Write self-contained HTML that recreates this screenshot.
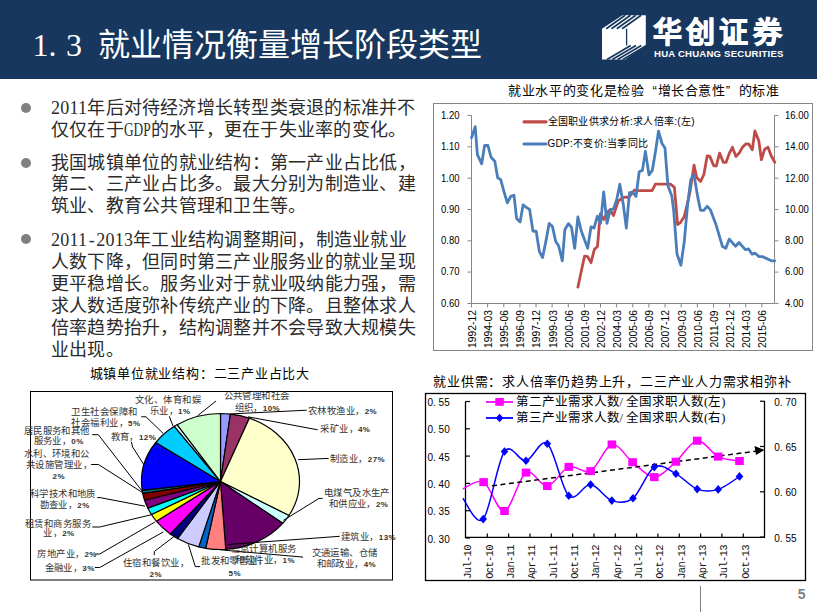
<!DOCTYPE html>
<html lang="zh-CN"><head><meta charset="utf-8">
<style>
*{margin:0;padding:0;box-sizing:border-box}
html,body{width:817px;height:612px;overflow:hidden;background:#fff;position:relative}
body{font-family:"Liberation Serif",serif;color:#000}
.a{position:absolute;white-space:nowrap}
.hw{display:inline-block;width:16px;text-align:left}
.rot{transform:rotate(-90deg)}
.q{display:inline-block;width:1em;text-align:center}
.h{display:inline-block;width:.5em;text-align:center}
.dot{position:absolute;left:21px;width:10px;height:10px;border-radius:50%;background:#808080}
svg{position:absolute;left:0;top:0}
</style></head><body>
<div class="a" style="left:0;top:0;width:817px;height:79px;background:#17375e"></div>
<svg width="817" height="612" viewBox="0 0 817 612">
<path d="M602 28.7L622.5 15.3H645.8V45.5L625 59.4H602Z" fill="#fff"/>
<path d="M626.6 28.7V45.5" stroke="#17375e" stroke-width="1.3"/>
<path d="M606.2 28.7L625.2 15.3" stroke="#17375e" stroke-width="1.7"/>
<path d="M611.5 28.7L630.5 15.3" stroke="#17375e" stroke-width="1.7"/>
<path d="M616.8 28.7L635.8 15.3" stroke="#17375e" stroke-width="1.7"/>
<path d="M622.1 28.7L641.1 15.3" stroke="#17375e" stroke-width="1.7"/>
<path d="M607.0 59.4L630.7 45.5" stroke="#17375e" stroke-width="1.7"/>
<path d="M612.3 59.4L636.0 45.5" stroke="#17375e" stroke-width="1.7"/>
<path d="M617.6 59.4L641.3 45.5" stroke="#17375e" stroke-width="1.7"/>
<path d="M622.9 59.4L646.6 45.5" stroke="#17375e" stroke-width="1.7"/>
<rect x="433.5" y="103.5" width="379" height="247" fill="none" stroke="#868686" stroke-width="1"/>
<path d="M471.5 115.5V303.5M774.5 115.5V303.5M471.5 303.5H774.5" stroke="#868686" stroke-width="1" fill="none"/>
<path d="M467.5 115.5H471.5M774.5 115.5H778.5" stroke="#868686" stroke-width="1"/>
<path d="M467.5 146.8H471.5M774.5 146.8H778.5" stroke="#868686" stroke-width="1"/>
<path d="M467.5 178.2H471.5M774.5 178.2H778.5" stroke="#868686" stroke-width="1"/>
<path d="M467.5 209.5H471.5M774.5 209.5H778.5" stroke="#868686" stroke-width="1"/>
<path d="M467.5 240.8H471.5M774.5 240.8H778.5" stroke="#868686" stroke-width="1"/>
<path d="M467.5 272.1H471.5M774.5 272.1H778.5" stroke="#868686" stroke-width="1"/>
<path d="M467.5 303.5H471.5M774.5 303.5H778.5" stroke="#868686" stroke-width="1"/>
<path d="M471.5 303.5V307.5" stroke="#868686" stroke-width="1"/>
<path d="M487.6 303.5V307.5" stroke="#868686" stroke-width="1"/>
<path d="M503.8 303.5V307.5" stroke="#868686" stroke-width="1"/>
<path d="M519.9 303.5V307.5" stroke="#868686" stroke-width="1"/>
<path d="M536.0 303.5V307.5" stroke="#868686" stroke-width="1"/>
<path d="M552.1 303.5V307.5" stroke="#868686" stroke-width="1"/>
<path d="M568.3 303.5V307.5" stroke="#868686" stroke-width="1"/>
<path d="M584.4 303.5V307.5" stroke="#868686" stroke-width="1"/>
<path d="M600.5 303.5V307.5" stroke="#868686" stroke-width="1"/>
<path d="M616.7 303.5V307.5" stroke="#868686" stroke-width="1"/>
<path d="M632.8 303.5V307.5" stroke="#868686" stroke-width="1"/>
<path d="M648.9 303.5V307.5" stroke="#868686" stroke-width="1"/>
<path d="M665.1 303.5V307.5" stroke="#868686" stroke-width="1"/>
<path d="M681.2 303.5V307.5" stroke="#868686" stroke-width="1"/>
<path d="M697.3 303.5V307.5" stroke="#868686" stroke-width="1"/>
<path d="M713.5 303.5V307.5" stroke="#868686" stroke-width="1"/>
<path d="M729.6 303.5V307.5" stroke="#868686" stroke-width="1"/>
<path d="M745.7 303.5V307.5" stroke="#868686" stroke-width="1"/>
<path d="M761.8 303.5V307.5" stroke="#868686" stroke-width="1"/>
<polyline points="577.9,287.2 584.5,256.2 587.7,256.6 591,262.7 594.3,249.6 597.5,246.4 600.2,214 603.7,219.5 607,212.3 610.3,209.7 613.5,215.6 618.1,201.2 623.3,197.3 629.2,197 634.4,190.1 638.4,190.7 652.1,190.7 655.4,184.2 670.5,184.1 674.4,187.3 677.6,224.6 680.3,222.7 684.2,216.8 687.5,203.1 690.1,191.3 694,165.1 696.7,177.5 700.6,181.4 703.9,174.5 707.2,155.8 709.8,156.4 713.7,165.6 716.3,166 719.6,153.1 723.3,162.3 726.1,162.3 729.4,153.1 732.4,147.3 735.9,156.4 739.2,153.1 742.5,147.3 745.8,144 749,144.2 752.3,149.9 754.9,130.9 758.8,140.7 761.4,159.7 764.7,149.2 768,147.3 771.2,155.8 774.8,162.3" fill="none" stroke="#be4b48" stroke-width="2.8" stroke-linejoin="round" stroke-linecap="round"/>
<polyline points="471.5,137.7 475.2,126.6 477.4,154.7 481.7,163.8 484.6,145.5 487.9,145.5 491.1,157.3 494.8,161.2 497.7,177.8 500.7,179.6 504.2,192.5 507.4,202.9 510.7,196.4 514,195.3 516.6,218.6 520.1,221.9 523.1,204.9 526.4,207.5 529.6,209.4 532.9,231 536.2,231.5 539.4,251.6 542.6,257.5 545.9,241.1 549.2,223.5 552.5,226.6 555.7,241.5 558.7,246 562.3,260.8 564.9,229.4 568.5,223.6 571.5,227.3 574.7,248.3 577.9,217 581.2,230.7 584.5,239.8 587.7,248.3 591,226.8 594,228.1 597.3,216.3 600.6,223.2 603.7,192 607,223.4 610.3,209.7 613.5,209 616.8,199.2 619.8,184.2 623.3,204.4 626.3,228 629.5,192.7 632.6,192 636,196.5 639.2,171.7 642.4,170.4 645.4,151.4 649,174.9 652.3,170.4 655.5,151.4 658.5,131.1 662,143.5 665,148.1 667.9,185.4 671.8,196 673.7,210.9 677,254 680.9,265.2 684.2,242.3 687.5,205.7 690.8,179.5 694,174.9 698,198.4 700.5,210.3 703.8,210.3 707.1,206.3 710.3,209.6 716.2,225.3 722.5,246.6 725.8,248.3 729.3,239.1 735.6,246.3 739,242.5 745.3,249.6 748.6,249 752.1,254.2 755.1,253.2 759,256.6 762.3,256.6 771.4,260.8 774.7,260.8" fill="none" stroke="#4a7ebb" stroke-width="2.8" stroke-linejoin="round" stroke-linecap="round"/>
<path d="M524 121.8H546" stroke="#be4b48" stroke-width="3.2" stroke-linecap="round"/>
<path d="M524 144H546" stroke="#4a7ebb" stroke-width="3.2" stroke-linecap="round"/>
<path d="M220.5 481.5L220.50 413.50A79 68 0 0 1 230.40 414.04Z" fill="#9999FF" stroke="#000" stroke-width="1.2" stroke-linejoin="round"/>
<path d="M220.5 481.5L230.40 414.04A79 68 0 0 1 249.33 418.19Z" fill="#993366" stroke="#000" stroke-width="1.2" stroke-linejoin="round"/>
<path d="M220.5 481.5L249.33 418.19A79 68 0 0 1 288.92 515.50Z" fill="#FFFFCC" stroke="#000" stroke-width="1.2" stroke-linejoin="round"/>
<path d="M220.5 481.5L288.92 515.50A79 68 0 0 1 282.75 523.36Z" fill="#CCFFFF" stroke="#000" stroke-width="1.2" stroke-linejoin="round"/>
<path d="M220.5 481.5L282.75 523.36A79 68 0 0 1 225.74 549.35Z" fill="#660066" stroke="#000" stroke-width="1.2" stroke-linejoin="round"/>
<path d="M220.5 481.5L225.74 549.35A79 68 0 0 1 205.70 548.30Z" fill="#FF8080" stroke="#000" stroke-width="1.2" stroke-linejoin="round"/>
<path d="M220.5 481.5L205.70 548.30A79 68 0 0 1 198.72 546.87Z" fill="#0066CC" stroke="#000" stroke-width="1.2" stroke-linejoin="round"/>
<path d="M220.5 481.5L198.72 546.87A79 68 0 0 1 177.47 538.53Z" fill="#CCCCFF" stroke="#000" stroke-width="1.2" stroke-linejoin="round"/>
<path d="M220.5 481.5L177.47 538.53A79 68 0 0 1 170.25 533.97Z" fill="#000080" stroke="#000" stroke-width="1.2" stroke-linejoin="round"/>
<path d="M220.5 481.5L170.25 533.97A79 68 0 0 1 156.35 521.18Z" fill="#FF00FF" stroke="#000" stroke-width="1.2" stroke-linejoin="round"/>
<path d="M220.5 481.5L156.35 521.18A79 68 0 0 1 151.41 514.47Z" fill="#FFFF00" stroke="#000" stroke-width="1.2" stroke-linejoin="round"/>
<path d="M220.5 481.5L151.41 514.47A79 68 0 0 1 147.78 508.07Z" fill="#00FFFF" stroke="#000" stroke-width="1.2" stroke-linejoin="round"/>
<path d="M220.5 481.5L147.78 508.07A79 68 0 0 1 144.56 500.24Z" fill="#800080" stroke="#000" stroke-width="1.2" stroke-linejoin="round"/>
<path d="M220.5 481.5L144.56 500.24A79 68 0 0 1 142.70 493.31Z" fill="#800000" stroke="#000" stroke-width="1.2" stroke-linejoin="round"/>
<path d="M220.5 481.5L142.70 493.31A79 68 0 0 1 142.18 490.38Z" fill="#008080" stroke="#000" stroke-width="1.2" stroke-linejoin="round"/>
<path d="M220.5 481.5L142.18 490.38A79 68 0 0 1 155.79 442.50Z" fill="#0000FF" stroke="#000" stroke-width="1.2" stroke-linejoin="round"/>
<path d="M220.5 481.5L155.79 442.50A79 68 0 0 1 174.29 426.35Z" fill="#00CCFF" stroke="#000" stroke-width="1.2" stroke-linejoin="round"/>
<path d="M220.5 481.5L174.29 426.35A79 68 0 0 1 177.13 424.67Z" fill="#CCFFFF" stroke="#000" stroke-width="1.2" stroke-linejoin="round"/>
<path d="M220.5 481.5L177.13 424.67A79 68 0 0 1 220.50 413.50Z" fill="#CCFFCC" stroke="#000" stroke-width="1.2" stroke-linejoin="round"/>
<polyline points="216.1,400.9 210,405.8 197.5,415.8" fill="none" stroke="#000" stroke-width="1"/>
<polyline points="306.7,410.2 230.8,413.9" fill="none" stroke="#000" stroke-width="1"/>
<polyline points="317.7,429.8 248,416.8" fill="none" stroke="#000" stroke-width="1"/>
<polyline points="328.7,458.4 298.1,459.7" fill="none" stroke="#000" stroke-width="1"/>
<polyline points="322.6,498.4 319,498.4 283.4,520.4" fill="none" stroke="#000" stroke-width="1"/>
<polyline points="339.7,536.3 227.6,544.5" fill="none" stroke="#000" stroke-width="1"/>
<polyline points="303,557.1 219.8,549.8" fill="none" stroke="#000" stroke-width="1"/>
<polyline points="200.1,566.6 195.3,566.6 188.4,544.5" fill="none" stroke="#000" stroke-width="1"/>
<polyline points="154.3,555.2 154.3,551.5 176,535" fill="none" stroke="#000" stroke-width="1"/>
<polyline points="94.8,567.5 99.7,567.5 163.4,531.9" fill="none" stroke="#000" stroke-width="1"/>
<polyline points="94.8,554 99.7,554 154.8,522.1" fill="none" stroke="#000" stroke-width="1"/>
<polyline points="92.3,527 99.7,527 151.1,514.8" fill="none" stroke="#000" stroke-width="1"/>
<polyline points="97.2,497.6 100,497.6 145,506.2" fill="none" stroke="#000" stroke-width="1"/>
<polyline points="91.1,464.5 98.4,464.5 143.8,493.4" fill="none" stroke="#000" stroke-width="1"/>
<polyline points="92.2,434.7 98.3,434.7 142.5,491.5" fill="none" stroke="#000" stroke-width="1"/>
<polyline points="131.4,442 132.6,447 143.8,464.5" fill="none" stroke="#000" stroke-width="1"/>
<polyline points="141.2,416.8 146,416.8 163.2,433.4" fill="none" stroke="#000" stroke-width="1"/>
<polyline points="169.3,416.3 173,426" fill="none" stroke="#000" stroke-width="1"/>
<rect x="30.5" y="391.5" width="362" height="188.5" fill="none" stroke="#000" stroke-width="1"/>
<rect x="425.5" y="393.5" width="380" height="187" fill="none" stroke="#000" stroke-width="1.3"/>
<path d="M465.5 401.5V537.3H764.5V401" stroke="#000" stroke-width="1.3" fill="none"/>
<path d="M465.5 401.5H470" stroke="#000" stroke-width="1.2"/>
<path d="M465.5 428.8H470" stroke="#000" stroke-width="1.2"/>
<path d="M465.5 456.1H470" stroke="#000" stroke-width="1.2"/>
<path d="M465.5 483.4H470" stroke="#000" stroke-width="1.2"/>
<path d="M465.5 510.7H470" stroke="#000" stroke-width="1.2"/>
<path d="M465.5 538.0H470" stroke="#000" stroke-width="1.2"/>
<path d="M760 401.2H764.5" stroke="#000" stroke-width="1.2"/>
<path d="M760 446.5H764.5" stroke="#000" stroke-width="1.2"/>
<path d="M760 491.8H764.5" stroke="#000" stroke-width="1.2"/>
<path d="M760 537.1H764.5" stroke="#000" stroke-width="1.2"/>
<path d="M487.3 537.3V533.5" stroke="#000" stroke-width="1.2"/>
<path d="M508.6 537.3V533.5" stroke="#000" stroke-width="1.2"/>
<path d="M530.0 537.3V533.5" stroke="#000" stroke-width="1.2"/>
<path d="M551.3 537.3V533.5" stroke="#000" stroke-width="1.2"/>
<path d="M572.6 537.3V533.5" stroke="#000" stroke-width="1.2"/>
<path d="M594.0 537.3V533.5" stroke="#000" stroke-width="1.2"/>
<path d="M615.3 537.3V533.5" stroke="#000" stroke-width="1.2"/>
<path d="M636.6 537.3V533.5" stroke="#000" stroke-width="1.2"/>
<path d="M657.9 537.3V533.5" stroke="#000" stroke-width="1.2"/>
<path d="M679.3 537.3V533.5" stroke="#000" stroke-width="1.2"/>
<path d="M700.6 537.3V533.5" stroke="#000" stroke-width="1.2"/>
<path d="M721.9 537.3V533.5" stroke="#000" stroke-width="1.2"/>
<path d="M743.3 537.3V533.5" stroke="#000" stroke-width="1.2"/>
<defs><clipPath id="cp"><rect x="426" y="394" width="379" height="186"/></clipPath></defs>
<path d="M462.8 489.0C466.3 487.9 476.7 478.4 483.6 482.1C490.6 485.8 497.4 512.6 504.5 511.0C511.6 509.4 518.9 476.8 526.0 472.6C533.1 468.4 540.2 486.9 547.3 486.0C554.4 485.1 561.6 469.4 568.8 466.9C576.0 464.4 583.4 474.8 590.6 471.1C597.8 467.4 604.9 446.0 611.9 444.5C618.9 443.0 625.5 456.8 632.6 462.2C639.7 467.6 647.1 477.2 654.3 477.1C661.5 477.0 668.8 467.8 675.9 461.7C683.0 455.6 690.2 441.5 697.2 440.7C704.2 439.9 711.2 453.2 718.2 456.6C725.2 460.0 736.0 460.3 739.5 461.0" fill="none" stroke="#FF00FF" stroke-width="1.5" clip-path="url(#cp)"/>
<path d="M462.8 498.3C466.2 501.8 476.2 526.9 483.2 519.1C490.1 511.3 497.4 461.2 504.5 451.5C511.6 441.8 518.9 462.1 526.0 460.8C533.1 459.5 540.2 437.9 547.3 443.7C554.4 449.5 561.6 489.0 568.8 495.8C576.0 502.6 583.4 483.8 590.6 484.6C597.8 485.4 604.7 498.3 611.8 500.6C618.9 502.9 625.9 503.8 633.0 498.2C640.1 492.6 647.1 471.2 654.3 467.1C661.4 463.0 668.8 470.1 675.9 473.8C683.0 477.5 690.2 486.5 697.2 489.1C704.2 491.7 711.2 491.5 718.2 489.4C725.2 487.3 736.0 478.6 739.5 476.4" fill="none" stroke="#0000FF" stroke-width="1.5" clip-path="url(#cp)"/>
<path d="M492 485.8L756 451.2" stroke="#000" stroke-width="1.5" stroke-dasharray="5 3.5"/>
<path d="M764.5 450L754.5 446L756 455Z" fill="#000"/>
<rect x="479.3" y="478.1" width="8.6" height="8" fill="#FF00FF"/>
<rect x="500.2" y="507.0" width="8.6" height="8" fill="#FF00FF"/>
<rect x="521.7" y="468.6" width="8.6" height="8" fill="#FF00FF"/>
<rect x="543.0" y="482.0" width="8.6" height="8" fill="#FF00FF"/>
<rect x="564.5" y="462.9" width="8.6" height="8" fill="#FF00FF"/>
<rect x="586.3" y="467.1" width="8.6" height="8" fill="#FF00FF"/>
<rect x="607.6" y="440.5" width="8.6" height="8" fill="#FF00FF"/>
<rect x="628.3" y="458.2" width="8.6" height="8" fill="#FF00FF"/>
<rect x="650.0" y="473.1" width="8.6" height="8" fill="#FF00FF"/>
<rect x="671.6" y="457.7" width="8.6" height="8" fill="#FF00FF"/>
<rect x="692.9" y="436.7" width="8.6" height="8" fill="#FF00FF"/>
<rect x="713.9" y="452.6" width="8.6" height="8" fill="#FF00FF"/>
<rect x="735.2" y="457.0" width="8.6" height="8" fill="#FF00FF"/>
<path d="M483.2 514.8L487.0 519.1L483.2 523.4L479.4 519.1Z" fill="#0000FF"/>
<path d="M504.5 447.2L508.3 451.5L504.5 455.8L500.7 451.5Z" fill="#0000FF"/>
<path d="M526.0 456.5L529.8 460.8L526.0 465.1L522.2 460.8Z" fill="#0000FF"/>
<path d="M547.3 439.4L551.1 443.7L547.3 448.0L543.5 443.7Z" fill="#0000FF"/>
<path d="M568.8 491.5L572.6 495.8L568.8 500.1L565.0 495.8Z" fill="#0000FF"/>
<path d="M590.6 480.3L594.4 484.6L590.6 488.9L586.8 484.6Z" fill="#0000FF"/>
<path d="M611.8 496.3L615.6 500.6L611.8 504.9L608.0 500.6Z" fill="#0000FF"/>
<path d="M633.0 493.9L636.8 498.2L633.0 502.5L629.2 498.2Z" fill="#0000FF"/>
<path d="M654.3 462.8L658.1 467.1L654.3 471.4L650.5 467.1Z" fill="#0000FF"/>
<path d="M675.9 469.5L679.7 473.8L675.9 478.1L672.1 473.8Z" fill="#0000FF"/>
<path d="M697.2 484.8L701.0 489.1L697.2 493.4L693.4 489.1Z" fill="#0000FF"/>
<path d="M718.2 485.1L722.0 489.4L718.2 493.7L714.4 489.4Z" fill="#0000FF"/>
<path d="M739.5 472.1L743.3 476.4L739.5 480.7L735.7 476.4Z" fill="#0000FF"/>
<path d="M486 402H513" stroke="#FF00FF" stroke-width="1.8"/><rect x="495.3" y="398" width="8.5" height="7.8" fill="#FF00FF"/>
<path d="M486 418H513" stroke="#0000FF" stroke-width="1.8"/><path d="M499.6 413.8L503.4 418L499.6 422.2L495.8 418Z" fill="#0000FF"/>
<path d="M700.5 586V612" stroke="#7f7f7f" stroke-width="1"/>
</svg>
<div class="a" style="left:32.6px;top:26.2px;font:32px/38px 'Liberation Serif',serif;color:#fff">1</div>
<div class="a" style="left:48.5px;top:26.2px;font:32px/38px 'Liberation Serif',serif;color:#fff">.</div>
<div class="a" style="left:66px;top:26.2px;font:32px/38px 'Liberation Serif',serif;color:#fff">3</div>
<div class="a" style="left:97.5px;top:26.3px;font:32px/38px 'Liberation Serif',serif;color:#fff;letter-spacing:0px">就业情况衡量增长阶段类型</div>
<div class="a" style="left:653px;top:15px;font:bold 29px/36px 'Liberation Sans',sans-serif;color:#fff;letter-spacing:4.2px;-webkit-text-stroke:0.9px #fff">华创证券</div>
<div class="a" style="left:654px;top:47.7px;font:bold 9.6px/12px 'Liberation Sans',sans-serif;color:#fff;letter-spacing:0.2px">HUA CHUANG SECURITIES</div>
<div class="a" style="left:51.0px;top:96.7px;font:18px/22.0px 'Liberation Serif',serif;color:#2b2b2b;letter-spacing:0.24px">2011年后对待经济增长转型类衰退的标准并不</div>
<div class="a" style="left:51.0px;top:118.7px;font:18px/22.0px 'Liberation Serif',serif;color:#2b2b2b;letter-spacing:0.24px">仅仅在于<span style="display:inline-block;width:27px;letter-spacing:0"><span style="display:inline-block;transform:scaleX(.74);transform-origin:0 0">GDP</span></span>的水平，更在于失业率的变化。</div>
<div class="a" style="left:51.0px;top:151.5px;font:18px/22.0px 'Liberation Serif',serif;color:#2b2b2b;letter-spacing:0.24px">我国城镇单位的就业结构：第一产业占比低，</div>
<div class="a" style="left:51.0px;top:173.3px;font:18px/22.0px 'Liberation Serif',serif;color:#2b2b2b;letter-spacing:0.24px">第二、三产业占比多。最大分别为制造业、建</div>
<div class="a" style="left:51.0px;top:195.2px;font:18px/22.0px 'Liberation Serif',serif;color:#2b2b2b;letter-spacing:0.24px">筑业、教育公共管理和卫生等。</div>
<div class="a" style="left:51.0px;top:229.0px;font:18px/22.0px 'Liberation Serif',serif;color:#2b2b2b;letter-spacing:0.24px">2011<span class=h>-</span>2013年工业结构调整期间，制造业就业</div>
<div class="a" style="left:51.0px;top:251.0px;font:18px/22.0px 'Liberation Serif',serif;color:#2b2b2b;letter-spacing:0.24px">人数下降，但同时第三产业服务业的就业呈现</div>
<div class="a" style="left:51.0px;top:273.0px;font:18px/22.0px 'Liberation Serif',serif;color:#2b2b2b;letter-spacing:0.24px">更平稳增长。服务业对于就业吸纳能力强，需</div>
<div class="a" style="left:51.0px;top:295.0px;font:18px/22.0px 'Liberation Serif',serif;color:#2b2b2b;letter-spacing:0.24px">求人数适度弥补传统产业的下降。且整体求人</div>
<div class="a" style="left:51.0px;top:317.0px;font:18px/22.0px 'Liberation Serif',serif;color:#2b2b2b;letter-spacing:0.24px">倍率趋势抬升，结构调整并不会导致大规模失</div>
<div class="a" style="left:51.0px;top:339.0px;font:18px/22.0px 'Liberation Serif',serif;color:#2b2b2b;letter-spacing:0.24px">业出现。</div>
<div class="dot" style="top:102.6px"></div>
<div class="dot" style="top:157.7px"></div>
<div class="dot" style="top:234.4px"></div>
<div class="a" style="left:508.0px;top:83.2px;font:13px/15.6px 'Liberation Sans',sans-serif;color:#000;letter-spacing:0.65px">就业水平的变化是检验<span class=q style="text-align:right">“</span>增长合意性<span class=q style="text-align:left">”</span>的标准</div>
<div class="a" style="right:357.5px;top:109.8px;font:9.5px/11.4px 'Liberation Sans',sans-serif;color:#000;transform:scaleY(1.14)">1.20</div>
<div class="a" style="right:357.5px;top:141.1px;font:9.5px/11.4px 'Liberation Sans',sans-serif;color:#000;transform:scaleY(1.14)">1.10</div>
<div class="a" style="right:357.5px;top:172.5px;font:9.5px/11.4px 'Liberation Sans',sans-serif;color:#000;transform:scaleY(1.14)">1.00</div>
<div class="a" style="right:357.5px;top:203.8px;font:9.5px/11.4px 'Liberation Sans',sans-serif;color:#000;transform:scaleY(1.14)">0.90</div>
<div class="a" style="right:357.5px;top:235.1px;font:9.5px/11.4px 'Liberation Sans',sans-serif;color:#000;transform:scaleY(1.14)">0.80</div>
<div class="a" style="right:357.5px;top:266.4px;font:9.5px/11.4px 'Liberation Sans',sans-serif;color:#000;transform:scaleY(1.14)">0.70</div>
<div class="a" style="right:357.5px;top:297.8px;font:9.5px/11.4px 'Liberation Sans',sans-serif;color:#000;transform:scaleY(1.14)">0.60</div>
<div class="a" style="left:785.0px;top:109.8px;font:9.5px/11.4px 'Liberation Sans',sans-serif;color:#000;transform:scaleY(1.14)">16.00</div>
<div class="a" style="left:785.0px;top:141.1px;font:9.5px/11.4px 'Liberation Sans',sans-serif;color:#000;transform:scaleY(1.14)">14.00</div>
<div class="a" style="left:785.0px;top:172.5px;font:9.5px/11.4px 'Liberation Sans',sans-serif;color:#000;transform:scaleY(1.14)">12.00</div>
<div class="a" style="left:785.0px;top:203.8px;font:9.5px/11.4px 'Liberation Sans',sans-serif;color:#000;transform:scaleY(1.14)">10.00</div>
<div class="a" style="left:785.0px;top:235.1px;font:9.5px/11.4px 'Liberation Sans',sans-serif;color:#000;transform:scaleY(1.14)">8.00</div>
<div class="a" style="left:785.0px;top:266.4px;font:9.5px/11.4px 'Liberation Sans',sans-serif;color:#000;transform:scaleY(1.14)">6.00</div>
<div class="a" style="left:785.0px;top:297.8px;font:9.5px/11.4px 'Liberation Sans',sans-serif;color:#000;transform:scaleY(1.14)">4.00</div>
<div class="a rot" style="left:442.8px;top:323.2px;width:60px;height:12px;font:10.3px/12px 'Liberation Sans',sans-serif;text-align:center">1992-12</div>
<div class="a rot" style="left:458.9px;top:323.2px;width:60px;height:12px;font:10.3px/12px 'Liberation Sans',sans-serif;text-align:center">1994-03</div>
<div class="a rot" style="left:475.1px;top:323.2px;width:60px;height:12px;font:10.3px/12px 'Liberation Sans',sans-serif;text-align:center">1995-06</div>
<div class="a rot" style="left:491.2px;top:323.2px;width:60px;height:12px;font:10.3px/12px 'Liberation Sans',sans-serif;text-align:center">1996-09</div>
<div class="a rot" style="left:507.3px;top:323.2px;width:60px;height:12px;font:10.3px/12px 'Liberation Sans',sans-serif;text-align:center">1997-12</div>
<div class="a rot" style="left:523.5px;top:323.2px;width:60px;height:12px;font:10.3px/12px 'Liberation Sans',sans-serif;text-align:center">1999-03</div>
<div class="a rot" style="left:539.6px;top:323.2px;width:60px;height:12px;font:10.3px/12px 'Liberation Sans',sans-serif;text-align:center">2000-06</div>
<div class="a rot" style="left:555.7px;top:323.2px;width:60px;height:12px;font:10.3px/12px 'Liberation Sans',sans-serif;text-align:center">2001-09</div>
<div class="a rot" style="left:571.8px;top:323.2px;width:60px;height:12px;font:10.3px/12px 'Liberation Sans',sans-serif;text-align:center">2002-12</div>
<div class="a rot" style="left:588.0px;top:323.2px;width:60px;height:12px;font:10.3px/12px 'Liberation Sans',sans-serif;text-align:center">2004-03</div>
<div class="a rot" style="left:604.1px;top:323.2px;width:60px;height:12px;font:10.3px/12px 'Liberation Sans',sans-serif;text-align:center">2005-06</div>
<div class="a rot" style="left:620.2px;top:323.2px;width:60px;height:12px;font:10.3px/12px 'Liberation Sans',sans-serif;text-align:center">2006-09</div>
<div class="a rot" style="left:636.4px;top:323.2px;width:60px;height:12px;font:10.3px/12px 'Liberation Sans',sans-serif;text-align:center">2007-12</div>
<div class="a rot" style="left:652.5px;top:323.2px;width:60px;height:12px;font:10.3px/12px 'Liberation Sans',sans-serif;text-align:center">2009-03</div>
<div class="a rot" style="left:668.6px;top:323.2px;width:60px;height:12px;font:10.3px/12px 'Liberation Sans',sans-serif;text-align:center">2010-06</div>
<div class="a rot" style="left:684.8px;top:323.2px;width:60px;height:12px;font:10.3px/12px 'Liberation Sans',sans-serif;text-align:center">2011-09</div>
<div class="a rot" style="left:700.9px;top:323.2px;width:60px;height:12px;font:10.3px/12px 'Liberation Sans',sans-serif;text-align:center">2012-12</div>
<div class="a rot" style="left:717.0px;top:323.2px;width:60px;height:12px;font:10.3px/12px 'Liberation Sans',sans-serif;text-align:center">2014-03</div>
<div class="a rot" style="left:733.1px;top:323.2px;width:60px;height:12px;font:10.3px/12px 'Liberation Sans',sans-serif;text-align:center">2015-06</div>
<div class="a" style="left:547.5px;top:115.8px;font:10px/12.0px 'Liberation Sans',sans-serif;color:#000;letter-spacing:0.3px">全国职业供求分析:求人倍率:(左)</div>
<div class="a" style="left:547.5px;top:138.0px;font:10px/12.0px 'Liberation Sans',sans-serif;color:#000;letter-spacing:0.3px">GDP:不变价:当季同比</div>
<div class="a" style="left:89.5px;top:366.2px;font:13px/15.6px 'Liberation Serif',serif;color:#000;letter-spacing:0.78px">城镇单位就业结构：二三产业占比大</div>
<div class="a" style="left:223.5px;top:391.3px;font:9.4px/11.3px 'Liberation Serif',serif;color:#333;letter-spacing:0.44px">公共管理和社会</div>
<div class="a" style="left:234.5px;top:402.8px;font:9.4px/11.3px 'Liberation Serif',serif;color:#333;letter-spacing:0.44px">组织，<b style="font:bold 8px Liberation Sans,sans-serif">10%</b></div>
<div class="a" style="left:308.0px;top:406.0px;font:9.4px/11.3px 'Liberation Serif',serif;color:#333;letter-spacing:0.44px">农林牧渔业，<b style="font:bold 8px Liberation Sans,sans-serif">2%</b></div>
<div class="a" style="left:320.2px;top:424.3px;font:9.4px/11.3px 'Liberation Serif',serif;color:#333;letter-spacing:0.44px">采矿业，<b style="font:bold 8px Liberation Sans,sans-serif">4%</b></div>
<div class="a" style="left:330.0px;top:454.3px;font:9.4px/11.3px 'Liberation Serif',serif;color:#333;letter-spacing:0.44px">制造业，<b style="font:bold 8px Liberation Sans,sans-serif">27%</b></div>
<div class="a" style="left:323.8px;top:488.0px;font:9.4px/11.3px 'Liberation Serif',serif;color:#333;letter-spacing:0.44px">电煤气及水生产</div>
<div class="a" style="left:328.7px;top:499.3px;font:9.4px/11.3px 'Liberation Serif',serif;color:#333;letter-spacing:0.44px">和供应业，<b style="font:bold 8px Liberation Sans,sans-serif">2%</b></div>
<div class="a" style="left:341.0px;top:531.6px;font:9.4px/11.3px 'Liberation Serif',serif;color:#333;letter-spacing:0.44px">建筑业，<b style="font:bold 8px Liberation Sans,sans-serif">13%</b></div>
<div class="a" style="left:311.6px;top:548.3px;font:9.4px/11.3px 'Liberation Serif',serif;color:#333;letter-spacing:0.44px">交通运输、仓储</div>
<div class="a" style="left:316.5px;top:558.5px;font:9.4px/11.3px 'Liberation Serif',serif;color:#333;letter-spacing:0.44px">和邮政业，<b style="font:bold 8px Liberation Sans,sans-serif">4%</b></div>
<div class="a" style="left:230.5px;top:543.7px;font:9.4px/11.3px 'Liberation Serif',serif;color:#333;letter-spacing:0.44px">信息计算机服务</div>
<div class="a" style="left:235.4px;top:554.5px;font:9.4px/11.3px 'Liberation Serif',serif;color:#333;letter-spacing:0.44px">和软件业，<b style="font:bold 8px Liberation Sans,sans-serif">1%</b></div>
<div class="a" style="left:201.1px;top:556.4px;font:9.4px/11.3px 'Liberation Serif',serif;color:#333;letter-spacing:0.44px">批发和零售业，</div>
<div class="a" style="left:228.5px;top:567.8px;font:9.4px/11.3px 'Liberation Serif',serif;color:#333;letter-spacing:0.44px"><b style="font:bold 8px Liberation Sans,sans-serif">5%</b></div>
<div class="a" style="left:123.0px;top:557.8px;font:9.4px/11.3px 'Liberation Serif',serif;color:#333;letter-spacing:0.44px">住宿和餐饮业，</div>
<div class="a" style="left:149.5px;top:568.9px;font:9.4px/11.3px 'Liberation Serif',serif;color:#333;letter-spacing:0.44px"><b style="font:bold 8px Liberation Sans,sans-serif">2%</b></div>
<div class="a" style="left:44.5px;top:563.3px;font:9.4px/11.3px 'Liberation Serif',serif;color:#333;letter-spacing:0.44px">金融业，<b style="font:bold 8px Liberation Sans,sans-serif">3%</b></div>
<div class="a" style="left:37.2px;top:549.3px;font:9.4px/11.3px 'Liberation Serif',serif;color:#333;letter-spacing:0.44px">房地产业，<b style="font:bold 8px Liberation Sans,sans-serif">2%</b></div>
<div class="a" style="left:24.9px;top:518.6px;font:9.4px/11.3px 'Liberation Serif',serif;color:#333;letter-spacing:0.44px">租赁和商务服务</div>
<div class="a" style="left:43.3px;top:528.4px;font:9.4px/11.3px 'Liberation Serif',serif;color:#333;letter-spacing:0.44px">业，<b style="font:bold 8px Liberation Sans,sans-serif">2%</b></div>
<div class="a" style="left:29.8px;top:489.3px;font:9.4px/11.3px 'Liberation Serif',serif;color:#333;letter-spacing:0.44px">科学技术和地质</div>
<div class="a" style="left:39.6px;top:499.5px;font:9.4px/11.3px 'Liberation Serif',serif;color:#333;letter-spacing:0.44px">勘查业，<b style="font:bold 8px Liberation Sans,sans-serif">2%</b></div>
<div class="a" style="left:23.7px;top:449.3px;font:9.4px/11.3px 'Liberation Serif',serif;color:#333;letter-spacing:0.44px">水利、环境和公</div>
<div class="a" style="left:26.0px;top:460.3px;font:9.4px/11.3px 'Liberation Serif',serif;color:#333;letter-spacing:0.44px">共设施管理业，</div>
<div class="a" style="left:52.5px;top:470.8px;font:9.4px/11.3px 'Liberation Serif',serif;color:#333;letter-spacing:0.44px"><b style="font:bold 8px Liberation Sans,sans-serif">2%</b></div>
<div class="a" style="left:23.7px;top:426.3px;font:9.4px/11.3px 'Liberation Serif',serif;color:#333;letter-spacing:0.44px">居民服务和其他</div>
<div class="a" style="left:33.5px;top:436.1px;font:9.4px/11.3px 'Liberation Serif',serif;color:#333;letter-spacing:0.44px">服务业，<b style="font:bold 8px Liberation Sans,sans-serif">0%</b></div>
<div class="a" style="left:110.6px;top:431.7px;font:9.4px/11.3px 'Liberation Serif',serif;color:#333;letter-spacing:0.44px">教育，<b style="font:bold 8px Liberation Sans,sans-serif">12%</b></div>
<div class="a" style="left:71.4px;top:407.3px;font:9.4px/11.3px 'Liberation Serif',serif;color:#333;letter-spacing:0.44px">卫生社会保障和</div>
<div class="a" style="left:71.4px;top:417.7px;font:9.4px/11.3px 'Liberation Serif',serif;color:#333;letter-spacing:0.44px">社会福利业，<b style="font:bold 8px Liberation Sans,sans-serif">5%</b></div>
<div class="a" style="left:135.0px;top:394.5px;font:9.4px/11.3px 'Liberation Serif',serif;color:#333;letter-spacing:0.44px">文化、体育和娱</div>
<div class="a" style="left:149.7px;top:405.5px;font:9.4px/11.3px 'Liberation Serif',serif;color:#333;letter-spacing:0.44px">乐业，<b style="font:bold 8px Liberation Sans,sans-serif">1%</b></div>
<div class="a" style="left:433.3px;top:373.6px;font:13px/15.6px 'Liberation Serif',serif;color:#000;letter-spacing:0.78px">就业供需：求人倍率仍趋势上升，二三产业人力需求相弥补</div>
<div class="a" style="left:427.5px;top:397.0px;font:10px/12.0px 'Liberation Sans',sans-serif;color:#000;">0. 55</div>
<div class="a" style="left:427.5px;top:424.3px;font:10px/12.0px 'Liberation Sans',sans-serif;color:#000;">0. 50</div>
<div class="a" style="left:427.5px;top:451.6px;font:10px/12.0px 'Liberation Sans',sans-serif;color:#000;">0. 45</div>
<div class="a" style="left:427.5px;top:478.9px;font:10px/12.0px 'Liberation Sans',sans-serif;color:#000;">0. 40</div>
<div class="a" style="left:427.5px;top:506.2px;font:10px/12.0px 'Liberation Sans',sans-serif;color:#000;">0. 35</div>
<div class="a" style="left:427.5px;top:533.5px;font:10px/12.0px 'Liberation Sans',sans-serif;color:#000;">0. 30</div>
<div class="a" style="left:774.3px;top:396.7px;font:10px/12.0px 'Liberation Sans',sans-serif;color:#000;">0. 70</div>
<div class="a" style="left:774.3px;top:442.0px;font:10px/12.0px 'Liberation Sans',sans-serif;color:#000;">0. 65</div>
<div class="a" style="left:774.3px;top:487.3px;font:10px/12.0px 'Liberation Sans',sans-serif;color:#000;">0. 60</div>
<div class="a" style="left:774.3px;top:532.6px;font:10px/12.0px 'Liberation Sans',sans-serif;color:#000;">0. 55</div>
<div class="a" style="left:515.5px;top:394.5px;font:12.5px/15.0px 'Liberation Serif',serif;color:#000;">第二产业需求人数/ 全国求职人数(左)</div>
<div class="a" style="left:515.5px;top:410.5px;font:12.5px/15.0px 'Liberation Serif',serif;color:#000;">第三产业需求人数/ 全国求职人数(右)</div>
<div class="a rot" style="left:438.2px;top:556.0px;width:60px;height:12px;font:10.5px/12px 'Liberation Mono',monospace;letter-spacing:-0.7px;text-align:center;color:#111">Jul-10</div>
<div class="a rot" style="left:459.5px;top:556.0px;width:60px;height:12px;font:10.5px/12px 'Liberation Mono',monospace;letter-spacing:-0.7px;text-align:center;color:#111">Oct-10</div>
<div class="a rot" style="left:480.9px;top:556.0px;width:60px;height:12px;font:10.5px/12px 'Liberation Mono',monospace;letter-spacing:-0.7px;text-align:center;color:#111">Jan-11</div>
<div class="a rot" style="left:502.2px;top:556.0px;width:60px;height:12px;font:10.5px/12px 'Liberation Mono',monospace;letter-spacing:-0.7px;text-align:center;color:#111">Apr-11</div>
<div class="a rot" style="left:523.5px;top:556.0px;width:60px;height:12px;font:10.5px/12px 'Liberation Mono',monospace;letter-spacing:-0.7px;text-align:center;color:#111">Jul-11</div>
<div class="a rot" style="left:544.9px;top:556.0px;width:60px;height:12px;font:10.5px/12px 'Liberation Mono',monospace;letter-spacing:-0.7px;text-align:center;color:#111">Oct-11</div>
<div class="a rot" style="left:566.2px;top:556.0px;width:60px;height:12px;font:10.5px/12px 'Liberation Mono',monospace;letter-spacing:-0.7px;text-align:center;color:#111">Jan-12</div>
<div class="a rot" style="left:587.5px;top:556.0px;width:60px;height:12px;font:10.5px/12px 'Liberation Mono',monospace;letter-spacing:-0.7px;text-align:center;color:#111">Apr-12</div>
<div class="a rot" style="left:608.8px;top:556.0px;width:60px;height:12px;font:10.5px/12px 'Liberation Mono',monospace;letter-spacing:-0.7px;text-align:center;color:#111">Jul-12</div>
<div class="a rot" style="left:630.2px;top:556.0px;width:60px;height:12px;font:10.5px/12px 'Liberation Mono',monospace;letter-spacing:-0.7px;text-align:center;color:#111">Oct-12</div>
<div class="a rot" style="left:651.5px;top:556.0px;width:60px;height:12px;font:10.5px/12px 'Liberation Mono',monospace;letter-spacing:-0.7px;text-align:center;color:#111">Jan-13</div>
<div class="a rot" style="left:672.8px;top:556.0px;width:60px;height:12px;font:10.5px/12px 'Liberation Mono',monospace;letter-spacing:-0.7px;text-align:center;color:#111">Apr-13</div>
<div class="a rot" style="left:694.2px;top:556.0px;width:60px;height:12px;font:10.5px/12px 'Liberation Mono',monospace;letter-spacing:-0.7px;text-align:center;color:#111">Jul-13</div>
<div class="a rot" style="left:715.5px;top:556.0px;width:60px;height:12px;font:10.5px/12px 'Liberation Mono',monospace;letter-spacing:-0.7px;text-align:center;color:#111">Oct-13</div>
<div class="a" style="left:797.7px;top:586.5px;font:bold 14px/14px 'Liberation Sans',sans-serif;color:#7f7f7f">5</div>
</body></html>
